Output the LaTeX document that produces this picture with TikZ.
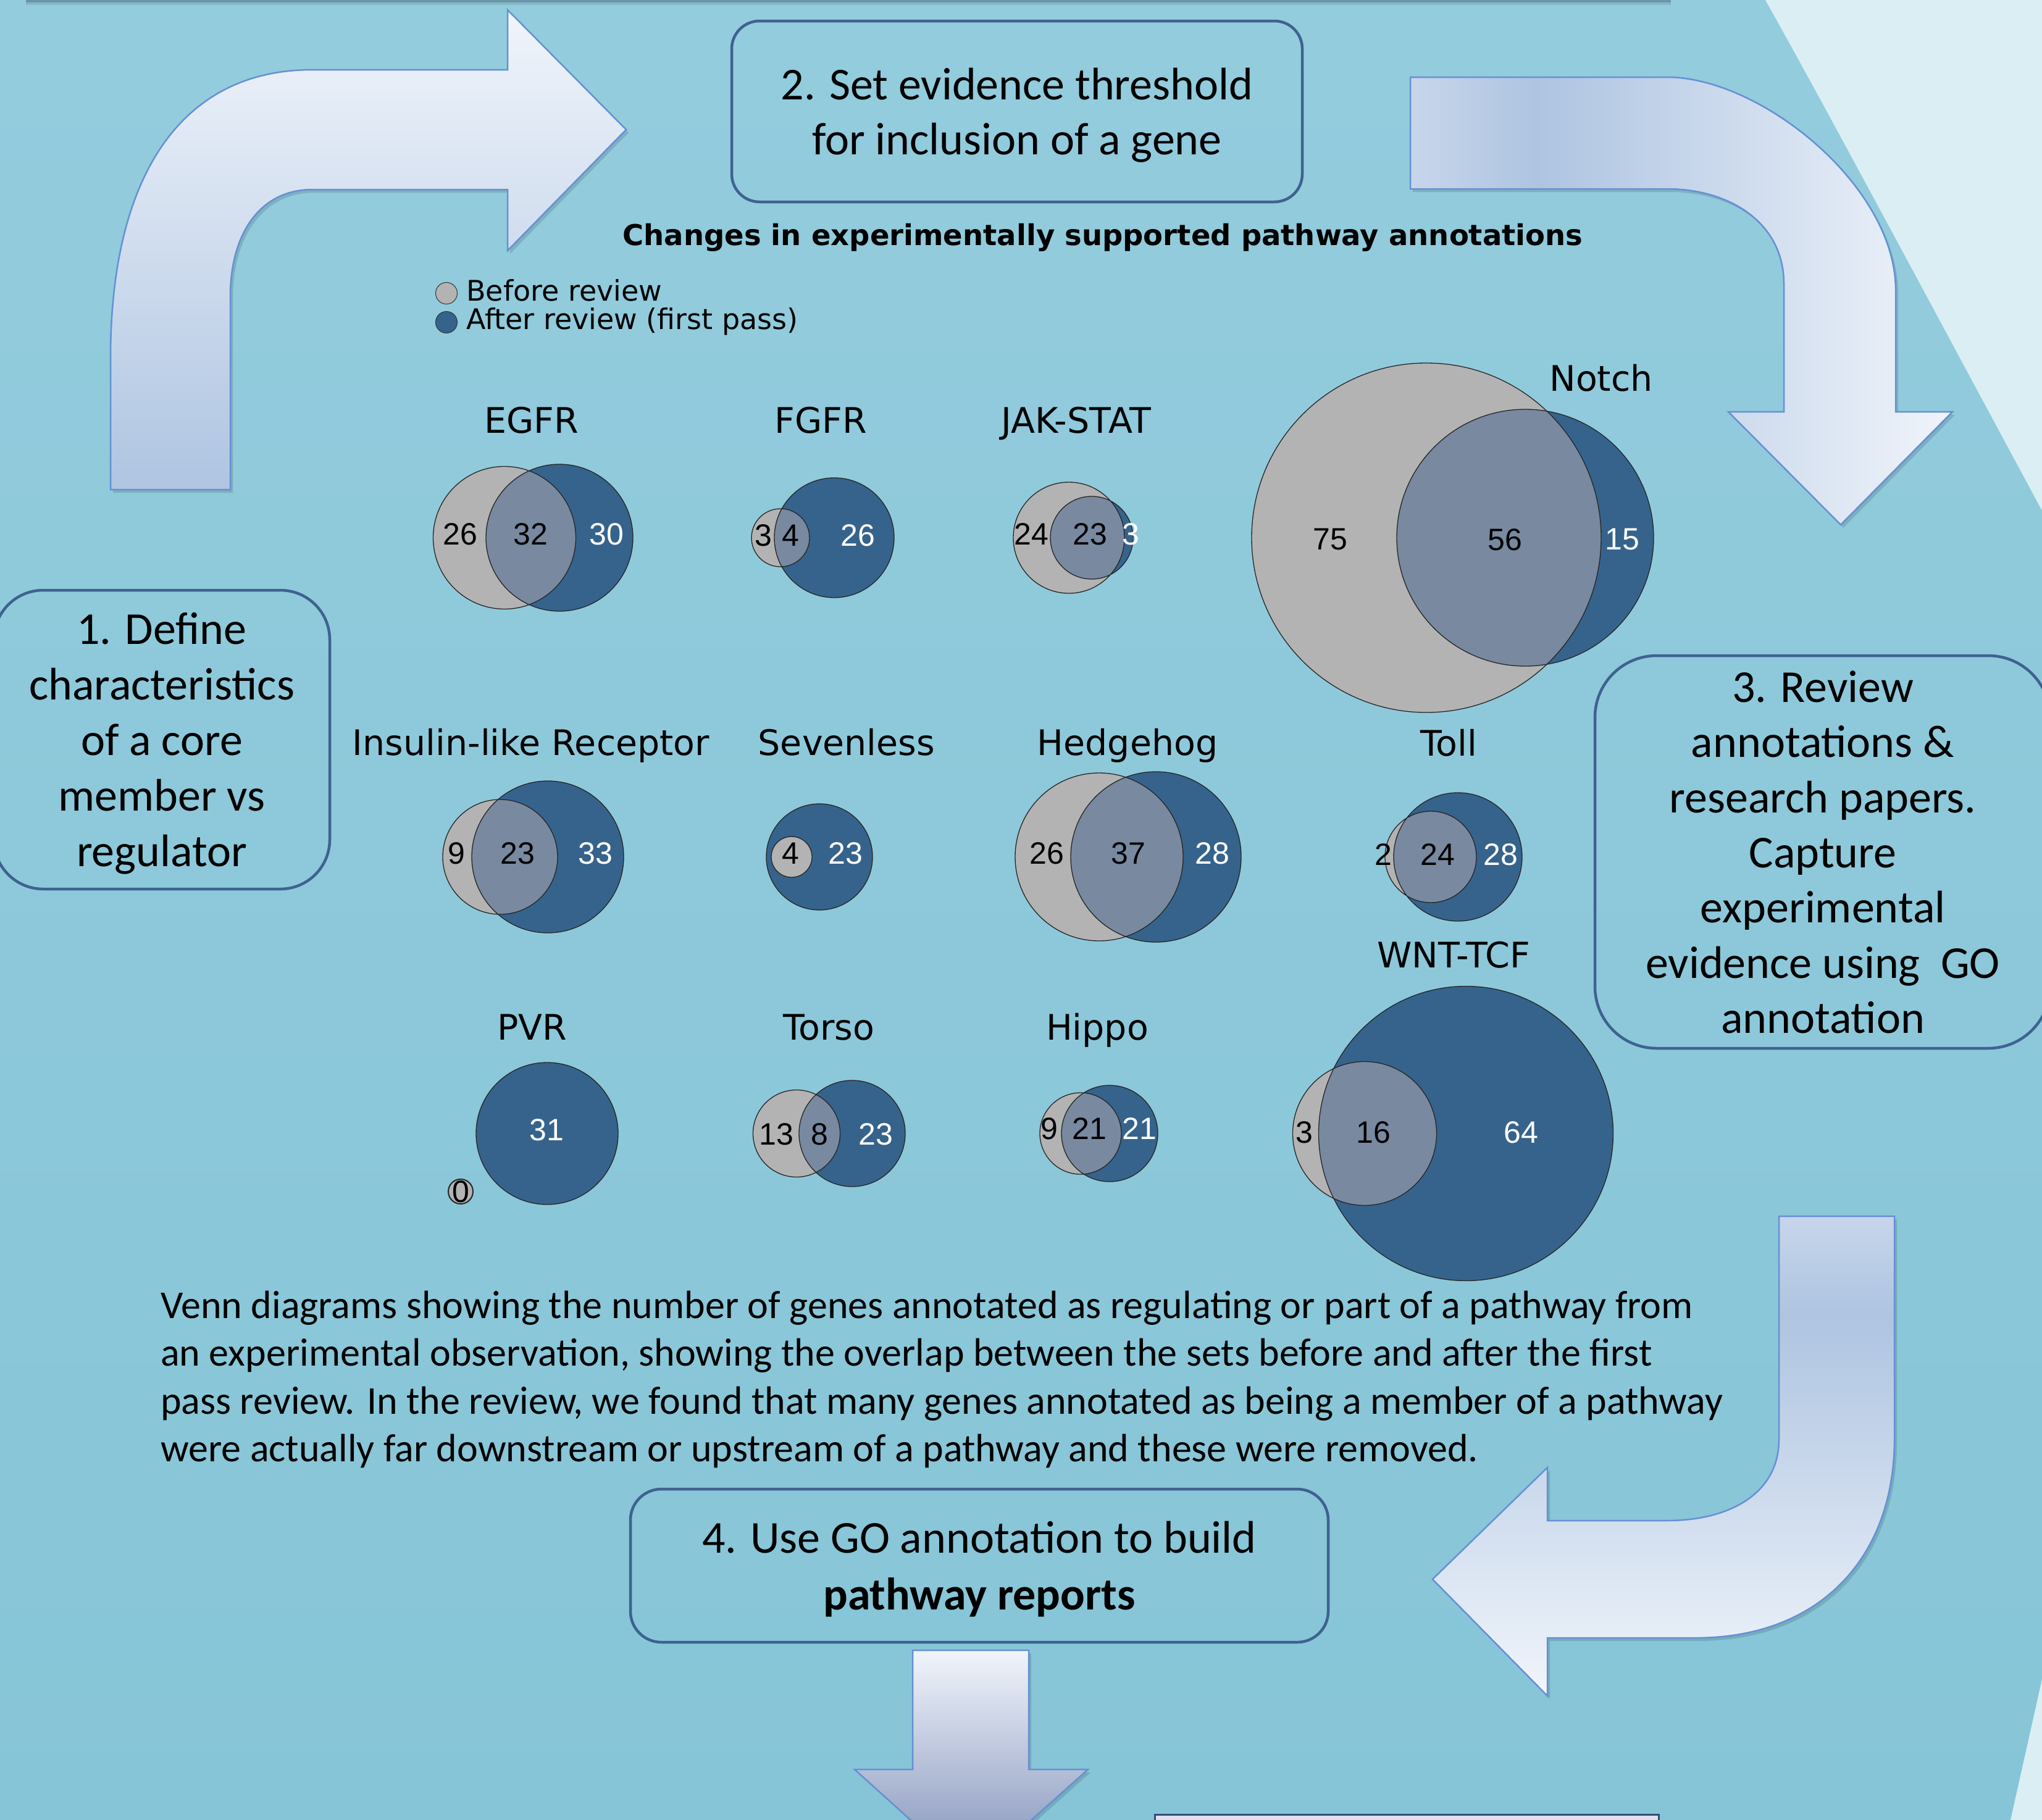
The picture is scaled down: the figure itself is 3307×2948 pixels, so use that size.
\documentclass[tikz,border=0pt]{standalone}
\usepackage{fontspec}
\setmainfont{Carlito}
\newfontfamily\dejavu{DejaVu Sans}
\newfontfamily\libsans{Liberation Sans}
\definecolor{bgtop}{HTML}{93CCDD}
\definecolor{bgbot}{HTML}{86C5D7}
\definecolor{bglight}{HTML}{DAEEF3}
\definecolor{boxline}{HTML}{3E6290}
\definecolor{arrline}{HTML}{6690D4}
\definecolor{arrdark}{HTML}{AEC4E1}
\definecolor{arrlight}{HTML}{F1F5FB}
\definecolor{arrmid}{HTML}{C8D6EB}
\definecolor{vgray}{HTML}{B3B3B3}
\definecolor{vblue}{HTML}{36638C}
\definecolor{vover}{HTML}{7889A0}
\definecolor{lav}{HTML}{E4DFEC}
\definecolor{navy}{HTML}{2F4F78}
\definecolor{topband}{HTML}{6A97A6}
\definecolor{topband2}{HTML}{84B8C9}

\newcommand{\vennpair}[5]{%
  \fill[vgray] (#1,#5) circle[radius=#2pt];
  \fill[vblue] (#3,#5) circle[radius=#4pt];
  \begin{scope}
    \clip (#3,#5) circle[radius=#4pt];
    \fill[vover] (#1,#5) circle[radius=#2pt];
  \end{scope}
  \draw[vline] (#1,#5) circle[radius=#2pt] (#3,#5) circle[radius=#4pt];
}

\def\tlarrow{(179,793) -- (179,580) .. controls (179,290) and (290,113) .. (506,113) -- (822,113) -- (822,16) -- (1014,210) -- (822,406) -- (822,307) -- (506,307) .. controls (420,307) and (373,380) .. (373,480) -- (373,793) -- cycle}
\def\trarrow{(2284,125) -- (2700,125) .. controls (2850,125) and (3070,300) .. (3070,470) -- (3070,667) -- (3162,667) -- (2981,850) -- (2799,667) -- (2889,667) -- (2889,460) .. controls (2889,360) and (2800,306) .. (2700,306) -- (2284,306) -- cycle}
\def\rbarrow{(2881,1970) -- (3068,1970) -- (3068,2331) .. controls (3068,2520) and (2950,2653) .. (2746,2653) -- (2506,2653) -- (2506,2747) -- (2320,2558) -- (2506,2377) -- (2506,2463) -- (2700,2463) .. controls (2800,2463) and (2881,2420) .. (2881,2331) -- cycle}
\def\bdarrow{(1478,2673) -- (1666,2673) -- (1666,2866) -- (1762,2866) -- (1572,3036) -- (1384,2866) -- (1478,2866) -- cycle}

\begin{document}
\begin{tikzpicture}[x=1pt,y=-1pt,
  boxst/.style={draw=boxline,line width=4.5pt,inner sep=0pt},
  btxt/.style={anchor=base,font=\fontsize{74}{90}\selectfont,inner sep=0pt},
  lbl/.style={anchor=base,font=\dejavu\fontsize{57}{66}\selectfont,inner sep=0pt},
  num/.style={anchor=center,font=\libsans\fontsize{50}{60}\selectfont,inner sep=0pt},
  numw/.style={num,text=white},
  ptxt/.style={anchor=base west,font=\fontsize{64}{77}\selectfont,inner sep=0pt},
  vline/.style={draw=black!85,line width=1.3pt},
  arrowline/.style={draw=arrline,line width=2.5pt,line join=miter},
  shadowst/.style={fill=black,opacity=0.13}
]
\useasboundingbox (0,0) rectangle (3307,2948);
\clip (0,0) rectangle (3307,2948);

% background
\shade[top color=bgtop,bottom color=bgbot] (0,0) rectangle (3307,2948);
\fill[bglight] (2859,0) .. controls (2960,180) and (3120,480) .. (3307,827) -- (3307,0) -- cycle;
\fill[bglight] (3307,2720) -- (3256,2948) -- (3307,2948) -- cycle;
\fill[topband] (42,0) rectangle (2706,4);
\fill[topband2] (42,4) rectangle (2706,8);

% top-left arrow
\fill[shadowst,shift={(4,5)}] \tlarrow;
\begin{scope}
  \clip \tlarrow;
  \shade[top color=arrlight,bottom color=arrdark] (170,10) rectangle (1020,800);
\end{scope}
\draw[arrowline] \tlarrow;

% top-right arrow
\fill[shadowst,shift={(4,5)}] \trarrow;
\begin{scope}
  \clip \trarrow;
  \shade[left color=arrmid,right color=arrdark] (2280,120) rectangle (2490,312);
  \shade[left color=arrdark,right color=arrlight] (2489,120) rectangle (3170,860);
\end{scope}
\draw[arrowline] \trarrow;

% right-bottom arrow
\fill[shadowst,shift={(4,5)}] \rbarrow;
\begin{scope}
  \clip \rbarrow;
  \shade[top color=arrmid,bottom color=arrdark] (2300,1965) rectangle (3075,2131);
  \shade[top color=arrdark,bottom color=arrlight] (2300,2130) rectangle (3075,2750);
\end{scope}
\draw[arrowline] \rbarrow;

% bottom arrow
\fill[shadowst,shift={(4,5)}] \bdarrow;
\begin{scope}
  \clip \bdarrow;
  \shade[top color=arrlight,bottom color=arrdark!90!blue!80!black] (1380,2673) rectangle (1770,3040);
\end{scope}
\draw[arrowline] \bdarrow;

% bottom partial box
\node[fill=lav,draw=navy,line width=3pt,minimum width=816pt,minimum height=100pt,anchor=north west,inner sep=0pt] (box5) at (1869,2938) {};

% step boxes
\node[boxst,rounded corners=80pt,minimum width=544pt,minimum height=484pt] (box1) at (262,1198) {};
\node[boxst,rounded corners=45pt,minimum width=924pt,minimum height=293pt] (box2) at (1647,180.5) {};
\node[boxst,rounded corners=100pt,minimum width=737pt,minimum height=636pt] (box3) at (2951.5,1380) {};
\node[boxst,rounded corners=50pt,minimum width=1130pt,minimum height=248pt] (box4) at (1586,2536) {};

\node[btxt] (b1a) at (262,1043) {1. Define};
\node[btxt] (b1b) at (262,1133) {characteristics};
\node[btxt] (b1c) at (262,1223) {of a core};
\node[btxt] (b1d) at (262,1313) {member vs};
\node[btxt] (b1e) at (262,1403) {regulator};

\node[btxt] (b2a) at (1647,161) {2. Set evidence threshold};
\node[btxt] (b2b) at (1647,250) {for inclusion of a gene};

\node[btxt] (b3a) at (2952,1137) {3. Review};
\node[btxt] (b3b) at (2952,1226) {annotations \&};
\node[btxt] (b3c) at (2952,1316) {research papers.};
\node[btxt] (b3d) at (2952,1405) {Capture};
\node[btxt] (b3e) at (2952,1494) {experimental};
\node[btxt] (b3f) at (2952,1584) {evidence using~ GO};
\node[btxt] (b3g) at (2952,1673) {annotation};

\node[btxt] (b4a) at (1586,2515) {4. Use GO annotation to build};
\node[btxt,font=\bfseries\fontsize{74}{90}\selectfont] (b4b) at (1586,2607) {pathway reports};

% title and legend
\node[anchor=base,font=\dejavu\bfseries\fontsize{46.5}{55}\selectfont,inner sep=0pt] (title) at (1786,397) {Changes in experimentally supported pathway annotations};
\node[circle,fill=vgray,draw=black!80,line width=1pt,minimum size=35pt,inner sep=0pt] (lg1) at (723,475) {};
\node[circle,fill=vblue,draw=black!80,line width=1pt,minimum size=35pt,inner sep=0pt] (lg2) at (723,522) {};
\node[anchor=base west,font=\dejavu\fontsize{46}{52}\selectfont,inner sep=0pt] (lgt1) at (755,487) {Before review};
\node[anchor=base west,font=\dejavu\fontsize{46}{52}\selectfont,inner sep=0pt] (lgt2) at (755,533) {After review (first pass)};

% Venn diagrams row 1
\vennpair{817}{115.5}{906}{119}{871}
\vennpair{1264}{47}{1351}{97}{871}
\vennpair{1731}{90}{1768}{67}{871}
\vennpair{2310}{283}{2470}{208}{871}
% row 2
\vennpair{810}{93}{887}{123}{1388}
\fill[vblue] (1327,1388) circle[radius=86pt];
\fill[vgray] (1282,1388) circle[radius=33pt];
\draw[vline] (1327,1388) circle[radius=86pt] (1282,1388) circle[radius=33pt];
\vennpair{1780}{136}{1872}{138}{1388}
\vennpair{2317}{74}{2361}{104}{1388}
% row 3
\fill[vblue] (886,1836) circle[radius=115pt];
\draw[vline] (886,1836) circle[radius=115pt];
\fill[vgray] (746,1930) circle[radius=20pt];
\draw[vline,line width=2pt] (746,1930) circle[radius=20pt];
\vennpair{1290}{70.5}{1380}{86}{1836}
\vennpair{1750}{66}{1797}{78}{1836}
\vennpair{2210}{116.5}{2374}{238.5}{1836}

% Venn titles
\node[lbl] (l-egfr) at (861,701) {EGFR};
\node[lbl] (l-fgfr) at (1329,701) {FGFR};
\node[lbl] (l-jak) at (1743,701) {JAK-STAT};
\node[lbl] (l-notch) at (2593,633) {Notch};
\node[lbl] (l-ins) at (860,1223) {Insulin-like Receptor};
\node[lbl] (l-sev) at (1371,1223) {Sevenless};
\node[lbl] (l-hh) at (1826,1223) {Hedgehog};
\node[lbl] (l-toll) at (2346,1224) {Toll};
\node[lbl] (l-wnt) at (2354,1567) {WNT-TCF};
\node[lbl] (l-pvr) at (862,1684) {PVR};
\node[lbl] (l-torso) at (1342,1684) {Torso};
\node[lbl] (l-hippo) at (1777,1684) {Hippo};

% Venn numbers
\node[num] (egfr1) at (745,865) {26};
\node[num] (egfr2) at (859,865) {32};
\node[numw] (egfr3) at (982,865) {30};
\node[num] (fgfr1) at (1236,867) {3};
\node[num] (fgfr2) at (1280,867) {4};
\node[numw] (fgfr3) at (1389,867) {26};
\node[num] (jak1) at (1670,865) {24};
\node[num] (jak2) at (1765,865) {23};
\node[numw] (jak3) at (1831,865) {3};
\node[num] (notch1) at (2154,874) {75};
\node[num] (notch2) at (2437,874) {56};
\node[numw] (notch3) at (2627,874) {15};
\node[num] (ins1) at (739,1382) {9};
\node[num] (ins2) at (838,1382) {23};
\node[numw] (ins3) at (964,1382) {33};
\node[num] (sev1) at (1280,1382) {4};
\node[numw] (sev2) at (1369,1382) {23};
\node[num] (hh1) at (1695,1382) {26};
\node[num] (hh2) at (1827,1382) {37};
\node[numw] (hh3) at (1963,1382) {28};
\node[num] (toll1) at (2240,1384) {2};
\node[num] (toll2) at (2328,1384) {24};
\node[numw] (toll3) at (2430,1384) {28};
\node[num] (pvr0) at (746,1930) {0};
\node[numw] (pvr1) at (885,1830) {31};
\node[num] (torso1) at (1257,1837) {13};
\node[num] (torso2) at (1327,1837) {8};
\node[numw] (torso3) at (1418,1837) {23};
\node[num] (hip1) at (1699,1828) {9};
\node[num] (hip2) at (1764,1828) {21};
\node[numw] (hip3) at (1845,1828) {21};
\node[num] (wnt1) at (2112,1834) {3};
\node[num] (wnt2) at (2224,1834) {16};
\node[numw] (wnt3) at (2463,1834) {64};

% caption paragraph
\node[ptxt] (p1) at (260,2135) {Venn diagrams showing the number of genes annotated as regulating or part of a pathway from};
\node[ptxt] (p2) at (260,2212.5) {an experimental observation, showing the overlap between the sets before and after the first};
\node[ptxt] (p3) at (260,2290) {pass review. In the review, we found that many genes annotated as being a member of a pathway};
\node[ptxt] (p4) at (260,2367.5) {were actually far downstream or upstream of a pathway and these were removed.};
\end{tikzpicture}
\end{document}
